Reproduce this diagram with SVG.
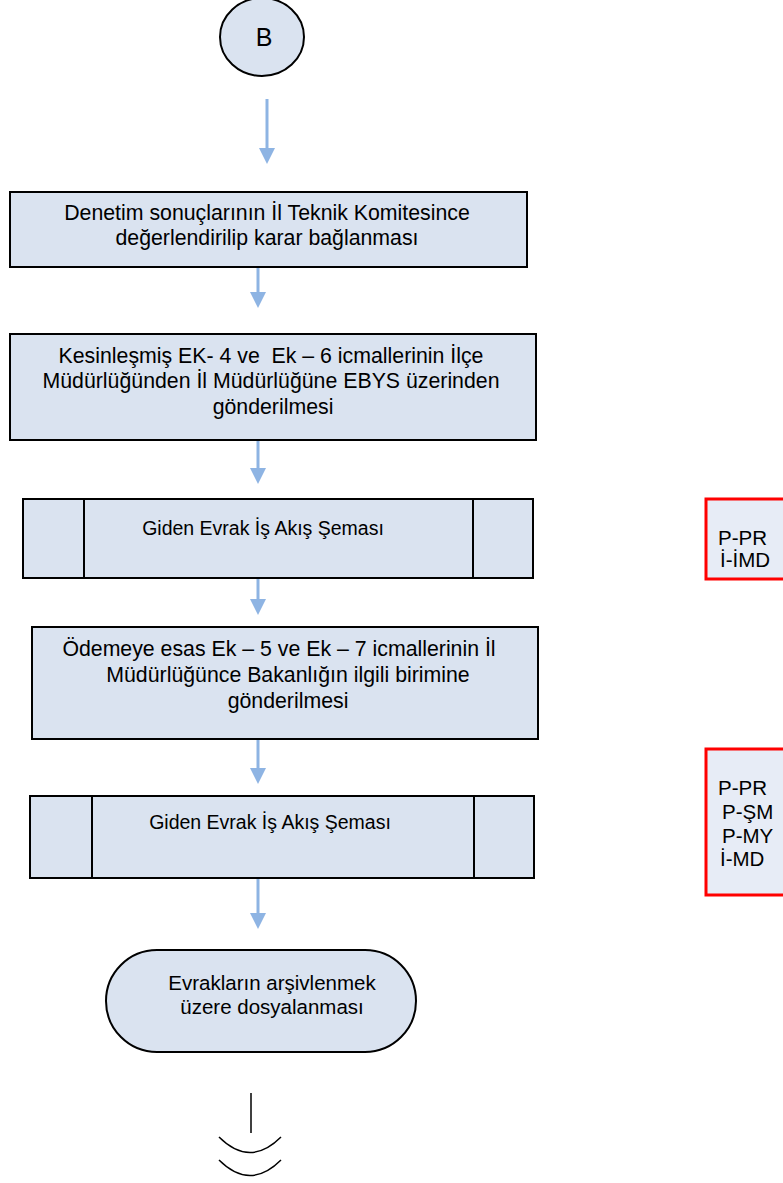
<svg xmlns="http://www.w3.org/2000/svg" width="783" height="1183" viewBox="0 0 783 1183">
<defs>
<style>
.box{fill:#DAE3F0;stroke:#000;stroke-width:2}
.ref{fill:#E7ECF6;stroke:#FF0000;stroke-width:3}
.t{font-family:"Liberation Sans",Arial,sans-serif;font-size:21.3px;fill:#000;white-space:pre}
.s{font-size:19.5px}
.r{font-size:20.5px}
.m{text-anchor:middle}
.con{stroke:#8EB4E3;stroke-width:3;fill:none}
.blk{stroke:#000;stroke-width:1.5;fill:none}
</style>
</defs>
<rect width="783" height="1183" fill="#fff"/>
<g id="connectors">
<path class="con" d="M267,99 V150"/><path d="M259,148 L275,148 L267,164 Z" fill="#8EB4E3"/>
<path class="con" d="M258,267 V294"/><path d="M250,292 L266,292 L258,308 Z" fill="#8EB4E3"/>
<path class="con" d="M258,441 V470"/><path d="M250,468 L266,468 L258,484 Z" fill="#8EB4E3"/>
<path class="con" d="M258,579 V601"/><path d="M250,599 L266,599 L258,615 Z" fill="#8EB4E3"/>
<path class="con" d="M258,740 V770"/><path d="M250,768 L266,768 L258,784 Z" fill="#8EB4E3"/>
<path class="con" d="M258,879 V915"/><path d="M250,913 L266,913 L258,929 Z" fill="#8EB4E3"/>
</g>
<g id="nodeB">
<ellipse cx="262" cy="37" rx="42" ry="39" fill="#DAE3F0" stroke="#000" stroke-width="2"/>
<text class="t m" x="264" y="46" style="font-size:25px">B</text>
</g>
<g id="n1">
<rect class="box" x="10" y="192" width="517" height="75"/>
<text class="t m" x="267" y="220">Denetim sonuçlarının İl Teknik Komitesince</text>
<text class="t m" x="267" y="245">değerlendirilip karar bağlanması</text>
</g>
<g id="n2">
<rect class="box" x="10" y="334" width="526" height="106"/>
<text class="t m" x="271" y="363">Kesinleşmiş EK- 4 ve  Ek – 6 icmallerinin İlçe</text>
<text class="t m" x="271" y="388">Müdürlüğünden İl Müdürlüğüne EBYS üzerinden</text>
<text class="t m" x="273" y="414">gönderilmesi</text>
</g>
<g id="n3">
<rect class="box" x="23" y="499" width="510" height="79"/>
<path class="blk" d="M84,499 V578 M473,499 V578" style="stroke-width:2"/>
<text class="t s m" x="263" y="535">Giden Evrak İş Akış Şeması</text>
</g>
<g id="n4">
<rect class="box" x="32" y="627" width="506" height="112"/>
<text class="t m" x="279" y="656">Ödemeye esas Ek – 5 ve Ek – 7 icmallerinin İl</text>
<text class="t m" x="288" y="682">Müdürlüğünce Bakanlığın ilgili birimine</text>
<text class="t m" x="288" y="708">gönderilmesi</text>
</g>
<g id="n5">
<rect class="box" x="30" y="796" width="504" height="82"/>
<path class="blk" d="M92,796 V878 M474,796 V878" style="stroke-width:2"/>
<text class="t s m" x="270" y="829">Giden Evrak İş Akış Şeması</text>
</g>
<g id="n6">
<rect class="box" x="106" y="950" width="310" height="102" rx="51" ry="51"/>
<text class="t r m" x="272" y="990">Evrakların arşivlenmek</text>
<text class="t r m" x="272" y="1014">üzere dosyalanması</text>
</g>
<g id="end">
<path class="blk" d="M251,1093 V1133"/>
<path class="blk" d="M219,1137 Q250,1168 281,1137"/>
<path class="blk" d="M219,1160 Q250,1191 281,1160"/>
</g>
<g id="refA">
<rect class="ref" x="706" y="499" width="80" height="80"/>
<text class="t r" x="718" y="545">P-PR</text>
<text class="t r" x="720" y="567">İ-İMD</text>
</g>
<g id="refB">
<rect class="ref" x="706" y="749" width="80" height="146"/>
<text class="t r" x="718" y="795">P-PR</text>
<text class="t r" x="722" y="819">P-ŞM</text>
<text class="t r" x="722" y="843">P-MY</text>
<text class="t r" x="720" y="866">İ-MD</text>
</g>
</svg>
